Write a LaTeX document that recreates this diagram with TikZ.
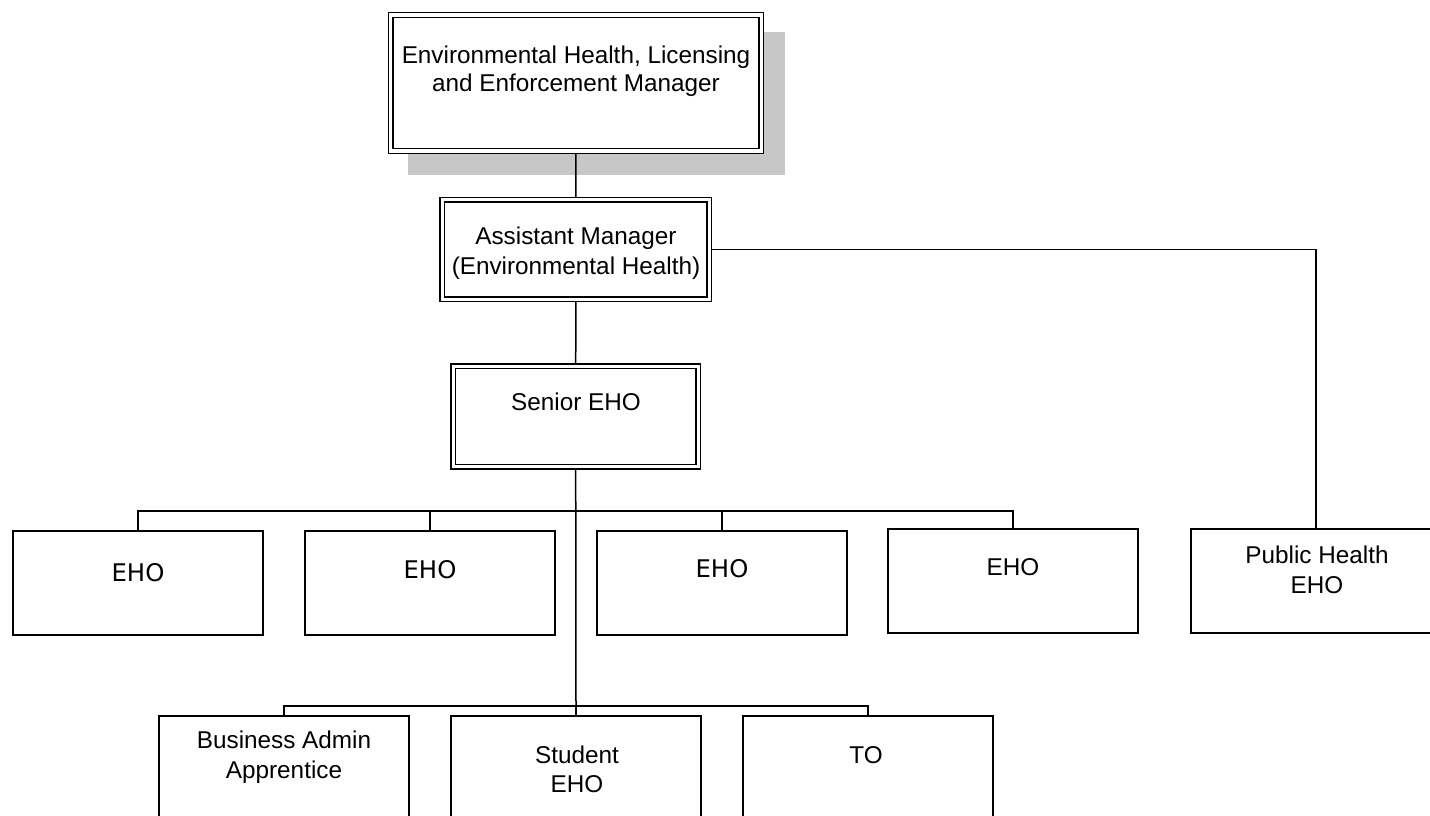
\documentclass[tikz,border=0pt]{standalone}
\usepackage{fontspec}
\setmainfont{Liberation Sans}
\newfontfamily\dejavu{DejaVu Sans}
\usetikzlibrary{backgrounds}
\tikzset{
  dblbox/.style={draw=black, line width=1.4pt, double=white, double distance=3.2pt, fill=white, inner sep=0pt, outer sep=0pt},
  plainbox/.style={draw=black, line width=1.4pt, fill=white, inner sep=0pt, outer sep=0pt, minimum width=250pt},
  txt/.style={anchor=base, inner sep=0pt, font=\fontsize{24.3}{28}\selectfont},
  dtxt/.style={anchor=base, inner sep=0pt, font=\dejavu\fontsize{24.3}{28}\selectfont},
  link/.style={draw=black, line width=1.5pt},
  shadowfill/.style={fill=black!22}
}
\begin{document}
\begin{tikzpicture}[x=1pt,y=-1pt]
\useasboundingbox (0,0) rectangle (1430,816);

% boxes
\node[dblbox, minimum width=370.6pt, minimum height=135.8pt] (top) at (575.8,83) {};
\node[dblbox, minimum width=266.9pt, minimum height=99.6pt] (am) at (575.9,249.5) {};
\node[dblbox, minimum width=245.2pt, minimum height=100.5pt] (se) at (575.7,416.6) {};

\node[plainbox, minimum height=104pt] (e1) at (138,583) {};
\node[plainbox, minimum height=104pt] (e2) at (430,583) {};
\node[plainbox, minimum height=104pt] (e3) at (722,583) {};
\node[plainbox, minimum height=104pt] (e4) at (1013,581) {};
\node[plainbox, minimum height=104pt] (ph) at (1316,581) {};

\node[plainbox, minimum height=120pt] (ba) at (284,776) {};
\node[plainbox, minimum height=120pt] (st) at (576,776) {};
\node[plainbox, minimum height=120pt] (to) at (868,776) {};

% texts
\node[txt] (topa) at (576,64) {Environmental Health, Licensing};
\node[txt] (topb) at (576,92) {and Enforcement Manager};
\node[txt] (ama) at (576,244) {Assistant Manager};
\node[txt] (amb) at (576,274.5) {(Environmental Health)};
\node[txt] (set) at (576,410) {Senior EHO};
\node[dtxt] (e1t) at (138,581) {EHO};
\node[dtxt] (e2t) at (430,578) {EHO};
\node[dtxt] (e3t) at (722,577) {EHO};
\node[txt] (e4t) at (1013,575) {EHO};
\node[txt] (pha) at (1317,563) {Public Health};
\node[txt] (phb) at (1317,593) {EHO};
\node[txt] (baa) at (284,748) {Business Admin};
\node[txt] (bab) at (284,778) {Apprentice};
\node[txt] (sta) at (577,763) {Student};
\node[txt] (stb) at (577,792) {EHO};
\node[txt] (tot) at (866,763) {TO};

% junction points
\coordinate (j1) at (576,511);
\coordinate (j2) at (576,706);

\begin{pgfonlayer}{background}
  \node[shadowfill, inner sep=0pt, minimum width=377pt, minimum height=143pt] (shadow) at (596.5,103.5) {};
  \draw[link] (top.south) -- (am.north);
  \draw[link] (am.south) -- (se.north);
  \draw[link] (se.south) -- (j2);
  \draw[link] (am.east |- am.center) -| (ph.north);
  \draw[link] (e1.north) |- (j1) -| (e4.north);
  \draw[link] (e2.north) -- (e2.north |- j1);
  \draw[link] (e3.north) -- (e3.north |- j1);
  \draw[link] (ba.north) |- (j2) -| (to.north);
  \draw[link] (st.north) -- (j2);
\end{pgfonlayer}
\end{tikzpicture}
\end{document}
